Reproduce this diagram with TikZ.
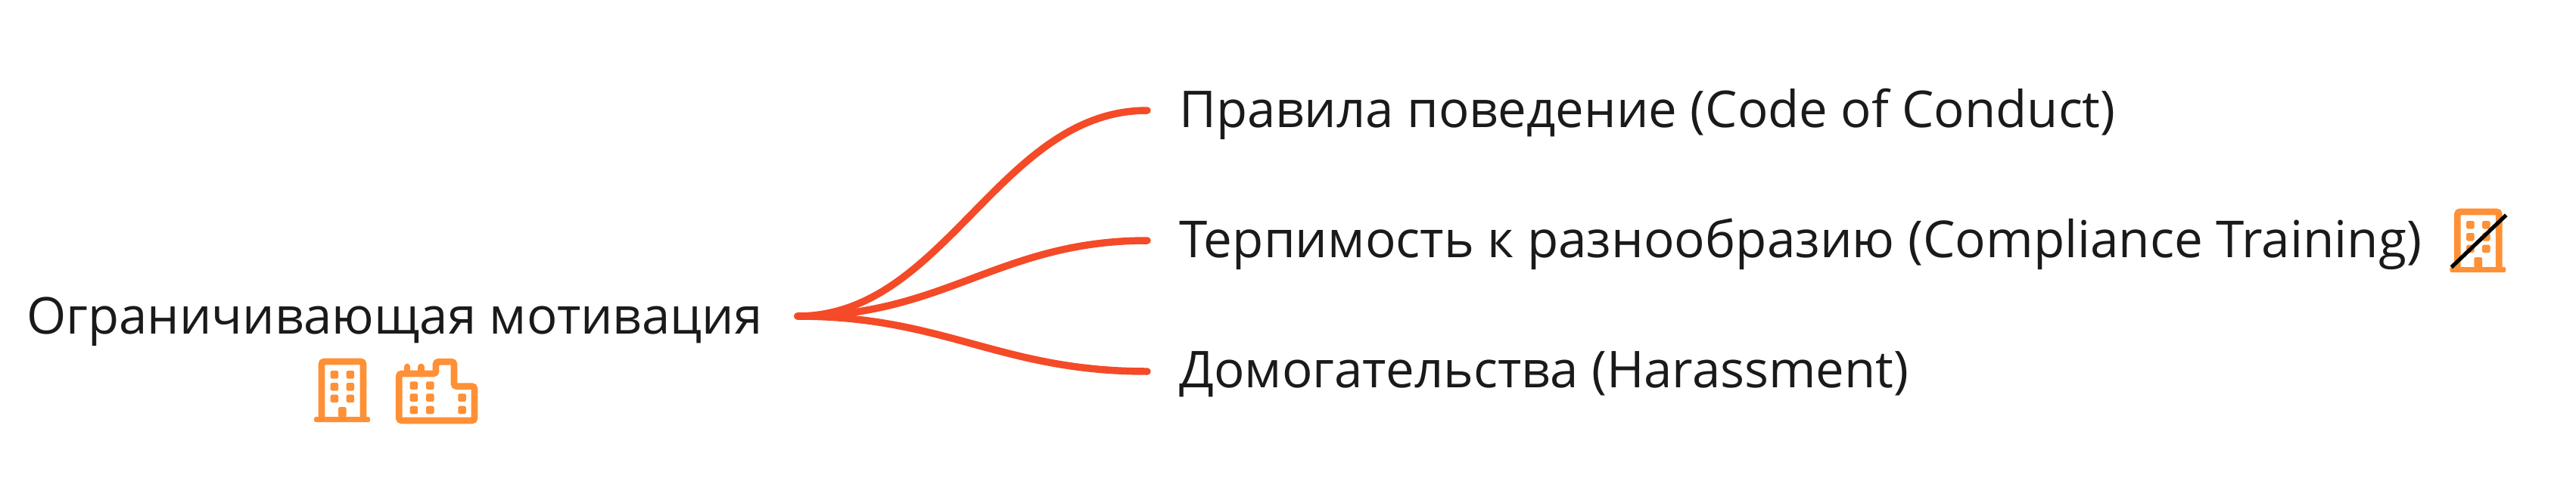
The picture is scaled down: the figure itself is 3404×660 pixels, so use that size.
\documentclass[tikz,border=0pt]{standalone}
\usepackage{fontspec}
\setmainfont{Open Sans}
\usetikzlibrary{arrows.meta, positioning, calc}
\definecolor{branchred}{HTML}{F44A27}
\definecolor{iconorange}{HTML}{FF9035}
\definecolor{labelblack}{HTML}{1A1A1A}
\tikzset{
  topiclabel/.style={font=\fontsize{38.2}{46}\selectfont, text=labelblack, inner sep=0pt, anchor=base west},
  branchline/.style={draw=branchred, line width=5.4pt, line cap=round},
  iconline/.style={draw=iconorange, line width=5pt, rounded corners=2pt},
  iconcell/.style={fill=iconorange, rounded corners=1pt},
  buildingicon/.pic={
    \draw[iconline] (4,77) -- (4,4) -- (59,4) -- (59,77);
    \fill[iconorange, rounded corners=1pt] (-6,77) rectangle (68,84);
    \fill[iconorange, rounded corners=1pt] (26,78) rectangle (36.7,64);
    \foreach \c in {15.7,36.7} {
      \foreach \r in {16,32,47.7} {
        \fill[iconcell] (\c,\r) rectangle ++(10.5,10.5);
      }
    }
  },
  factoryicon/.pic={
    \draw[iconline] (4,20) -- (52.7,20) -- (52.7,4.3) -- (76.7,4.3) -- (76.7,36.7)
      -- (103.7,36.7) -- (103.7,82) -- (4,82) -- cycle;
    \foreach \c in {14.7,33} {
      \draw[iconorange, line width=5pt, line cap=round] (\c,20) -- (\c,11);
    }
    \foreach \c/\r in {18.3/30.3,18.3/46.3,18.3/62.7,39.7/30.3,39.7/46.3,39.7/62.7,82/46.3,82/62.7} {
      \fill[iconcell] (\c,\r) rectangle ++(10.6,10.6);
    }
  }
}
\begin{document}
\begin{tikzpicture}[x=0.02cm,y=-0.02cm]
  \useasboundingbox (0,0) rectangle (3404,660);
  \node[topiclabel] (root) at (35,441) {Ограничивающая мотивация};
  \node[topiclabel] (rules) at (1558,168) {Правила поведение (Code of Conduct)};
  \node[topiclabel, font=\fontsize{38.35}{46}\selectfont] (tolerance) at (1558,340) {Терпимость к разнообразию (Compliance Training)};
  \node[topiclabel] (harassment) at (1558,512) {Домогательства (Harassment)};
  \coordinate (hub) at (1054,418);
  \coordinate (rulesend) at (1516,146);
  \coordinate (toleranceend) at (1516,318);
  \coordinate (harassmentend) at (1516,491);
  \foreach \e in {rulesend,toleranceend,harassmentend} {
    \draw[branchline] (hub) .. controls ($(hub)+(195,0)$) and ($(\e)+(-195,0)$) .. (\e);
  }
  \pic (rootbuilding) at (421,474) {buildingicon};
  \pic (rootfactory) at (523.3,474) {factoryicon};
  \pic (crossedbuilding) at (3243.3,276) {buildingicon};
  \coordinate (slashstart) at (3239.3,353.3);
  \coordinate (slashend) at (3311.7,284.3);
  \draw[black, line width=2.9pt] (slashstart) -- (slashend);
\end{tikzpicture}
\end{document}
